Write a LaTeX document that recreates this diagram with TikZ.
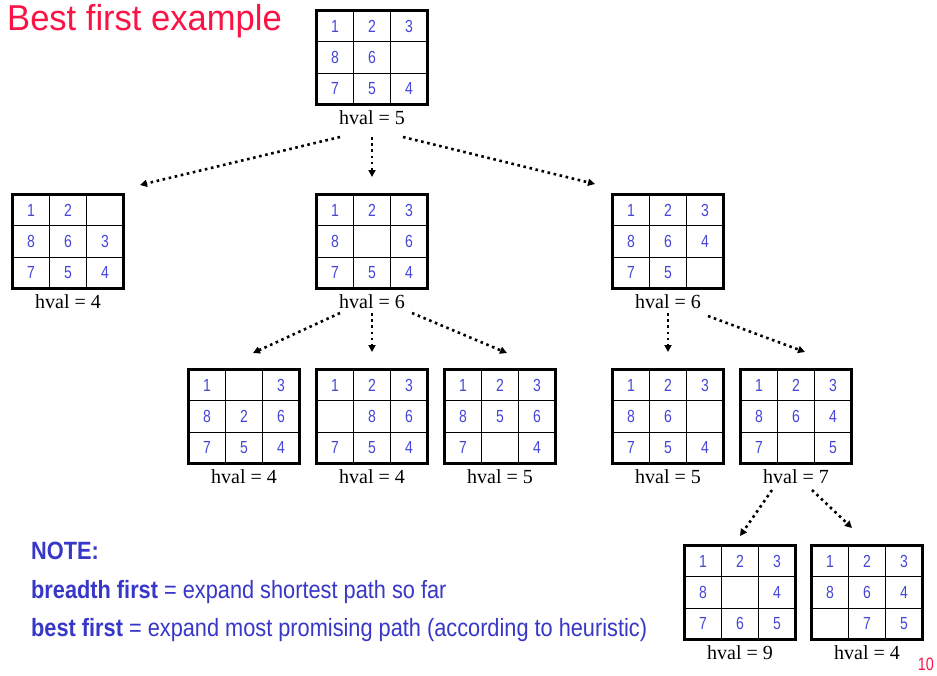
\documentclass[tikz,border=0pt]{standalone}
\usepackage{fontspec}
\setmainfont{Liberation Serif}
\newfontfamily\tilefont{Liberation Sans}[FakeStretch=0.8]
\newfontfamily\notefont{Liberation Sans}[FakeStretch=0.87]
\newfontfamily\headfont{Liberation Sans}[FakeStretch=0.96]
\usetikzlibrary{arrows.meta}

\definecolor{slidered}{RGB}{250,20,70}
\definecolor{tileblue}{RGB}{70,70,215}
\definecolor{noteblue}{RGB}{55,55,200}

\tikzset{
  frame/.style={draw, line width=3pt, inner sep=0pt, minimum width=111pt, minimum height=94pt},
  cellline/.style={line width=0.9pt},
  tile/.style={font=\tilefont\fontsize{17.5}{17.5}\selectfont, text=tileblue, inner sep=0pt},
  hvallabel/.style={font=\fontsize{20}{20}\selectfont, inner sep=0pt, anchor=base},
  move/.style={line width=2.6pt, dash pattern=on 2.6pt off 3.6pt,
               -{Triangle[length=7pt,width=7pt]}},
  notetext/.style={font=\notefont\fontsize{25}{25}\selectfont, text=noteblue,
                   inner sep=0pt, anchor=base west},
}

% \puzzleboard{name}{left}{top}{nine tiles, row by row}{heuristic value}
\newcommand\puzzleboard[5]{%
  \node[frame] (#1) at ({#2+57},{#3+48.5}) {};
  \draw[cellline] ({#2+38.5},{#3+1.5}) -- ({#2+38.5},{#3+95.5})
                  ({#2+75.5},{#3+1.5}) -- ({#2+75.5},{#3+95.5})
                  ({#2+1.5},{#3+32.83}) -- ({#2+112.5},{#3+32.83})
                  ({#2+1.5},{#3+64.17}) -- ({#2+112.5},{#3+64.17});
  \foreach \tl [count=\tileno from 0] in {#4} {
    \pgfmathtruncatemacro\col{mod(\tileno,3)}
    \pgfmathtruncatemacro\row{div(\tileno,3)}
    \node[tile] (#1-t\tileno) at ({#2+20+37*\col},{#3+17.17+31.33*\row}) {\tl};
  }
  \node[hvallabel] (#1-h) at ({#2+57},{#3+115}) {hval = #5};
}

\begin{document}
\begin{tikzpicture}[x=1pt, y=-1pt]
  \fill[white] (0,0) rectangle (937,675);
  \useasboundingbox (0,0) rectangle (937,675);

  \node[anchor=base west, inner sep=0pt, font=\headfont\fontsize{36}{36}\selectfont,
        text=slidered] (title) at (7,30) {Best first example};

  % search tree
  \puzzleboard{root}{315}{9}{1,2,3,8,6,{},7,5,4}{5}
  \puzzleboard{a}{11}{193}{1,2,{},8,6,3,7,5,4}{4}
  \puzzleboard{b}{315}{193}{1,2,3,8,{},6,7,5,4}{6}
  \puzzleboard{c}{611}{193}{1,2,3,8,6,4,7,5,{}}{6}
  \puzzleboard{ba}{187}{368}{1,{},3,8,2,6,7,5,4}{4}
  \puzzleboard{bb}{315}{368}{1,2,3,{},8,6,7,5,4}{4}
  \puzzleboard{bc}{443}{368}{1,2,3,8,5,6,7,{},4}{5}
  \puzzleboard{ca}{611}{368}{1,2,3,8,6,{},7,5,4}{5}
  \puzzleboard{cb}{739}{368}{1,2,3,8,6,4,7,{},5}{7}
  \puzzleboard{cba}{683}{544}{1,2,3,8,{},4,7,6,5}{9}
  \puzzleboard{cbb}{810}{544}{1,2,3,8,6,4,{},7,5}{4}

  % expansion arrows
  \coordinate (r1) at (340,137); \coordinate (a1) at (140,185);
  \coordinate (r2) at (372,137); \coordinate (b1) at (372,177);
  \coordinate (r3) at (403,137); \coordinate (c1) at (595,184);
  \coordinate (b2) at (340,313); \coordinate (ba1) at (253,353);
  \coordinate (b3) at (372,313); \coordinate (bb1) at (372,352);
  \coordinate (b4) at (412,313); \coordinate (bc1) at (507,353);
  \coordinate (c2) at (668,313); \coordinate (ca1) at (668,352);
  \coordinate (c3) at (708,316); \coordinate (cb1) at (805,352);
  \coordinate (cb2) at (772,490); \coordinate (cba1) at (740,536);
  \coordinate (cb3) at (812,490); \coordinate (cbb1) at (852,528);
  \draw[move] (r1) -- (a1);
  \draw[move] (r2) -- (b1);
  \draw[move] (r3) -- (c1);
  \draw[move] (b2) -- (ba1);
  \draw[move] (b3) -- (bb1);
  \draw[move] (b4) -- (bc1);
  \draw[move] (c2) -- (ca1);
  \draw[move] (c3) -- (cb1);
  \draw[move] (cb2) -- (cba1);
  \draw[move] (cb3) -- (cbb1);

  % note
  \node[notetext] (note) at (31,559) {\bfseries NOTE:};
  \node[notetext] (breadth) at (31,598) {\bfseries breadth first\mdseries{} = expand shortest path so far};
  \node[notetext] (best) at (31,636) {\bfseries best first\mdseries{} = expand most promising path (according to heuristic)};

  \node[anchor=base east, inner sep=0pt, font=\tilefont\fontsize{18}{18}\selectfont,
        text=slidered] (pageno) at (934,670) {10};
\end{tikzpicture}
\end{document}
